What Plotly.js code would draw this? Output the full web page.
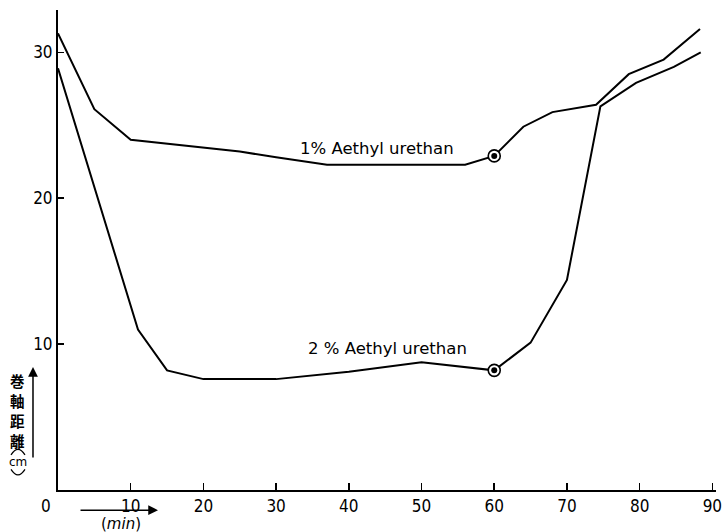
<!DOCTYPE html>
<html>
<head>
<meta charset="utf-8">
<script src="https://cdn.plot.ly/plotly-3.0.1.min.js"></script>
<style>html,body{margin:0;padding:0;background:#fff;}#chart{width:726px;height:532px;}</style>
</head>
<body>
<div id="chart"></div>
<script>
// Time in minutes, x axis
const time1 = [0, 5, 10, 20, 25, 30, 37, 56, 60, 64, 68, 74, 78.5, 83.3, 88.3];
// 1% Aethyl urethan, roll-axis distance (cm)
const dist1 = [31.3, 26.1, 24.0, 23.5, 23.2, 22.8, 22.3, 22.3, 22.9, 24.9, 25.9, 26.4, 28.5, 29.5, 31.6];
const time2 = [0, 11, 15, 20, 30, 40, 50, 60, 65, 70, 74.6, 79.5, 84.7, 88.4];
// 2% Aethyl urethan
const dist2 = [28.9, 11.0, 8.2, 7.6, 7.6, 8.1, 8.75, 8.2, 10.1, 14.4, 26.3, 27.9, 29.0, 30.0];
// circled points
const markTime = [60, 60];
const markDist = [22.9, 8.2];
const xTicks = [10, 20, 30, 40, 50, 60, 70, 80, 90];
const yTicks = [10, 20, 30];
const seriesLabels = ["1% Aethyl urethan", "2 % Aethyl urethan"];
const yTitleChars = ["巻", "軸", "距", "離"];
const labelPos = [[43.9, 23.4], [45.3, 9.7]];

const numFont = {family: "Liberation Sans Narrow, DejaVu Sans Condensed, Liberation Sans, sans-serif", size: 17, color: "#000"};
const handFont = {family: "DejaVu Sans, sans-serif", size: 16.5, color: "#000"};
const cjk = "Noto Sans CJK JP, sans-serif";

const traces = [
  {x: time1, y: dist1, mode: "lines", line: {color: "#000", width: 2}, hoverinfo: "none"},
  {x: time2, y: dist2, mode: "lines", line: {color: "#000", width: 2}, hoverinfo: "none"},
  {x: markTime, y: markDist, mode: "markers", marker: {symbol: "circle", size: 12, color: "#fff", line: {color: "#000", width: 1.6}}, hoverinfo: "none"},
  {x: markTime, y: markDist, mode: "markers", marker: {symbol: "circle", size: 6, color: "#000"}, hoverinfo: "none"}
];

function paperText(x, y, text, font, extra) {
  return Object.assign({x: x, y: y, xref: "paper", yref: "paper", text: text, showarrow: false,
    xanchor: "center", yanchor: "middle", font: font}, extra || {});
}

const annotations = [
  {x: labelPos[0][0], y: labelPos[0][1], xref: "x", yref: "y", text: seriesLabels[0], showarrow: false, font: handFont, xanchor: "center", yanchor: "middle"},
  {x: labelPos[1][0], y: labelPos[1][1], xref: "x", yref: "y", text: seriesLabels[1], showarrow: false, font: handFont, xanchor: "center", yanchor: "middle"},
  paperText(-0.018, -0.034, "0", numFont),
  // x-axis unit with arrow
  {x: 0.152, y: -0.042, xref: "paper", yref: "paper", text: "", showarrow: true, ax: -79, ay: 0, arrowhead: 2, arrowsize: 1.3, arrowwidth: 1.5, arrowcolor: "#000"},
  paperText(0.0957, -0.071, "(<i>min</i>)", {family: "DejaVu Sans, sans-serif", size: 15, color: "#000"}),
  paperText(-0.0608, 0.058, "cm", {family: "DejaVu Sans, sans-serif", size: 12, color: "#000"}),
  {x: -0.038, y: 0.256, xref: "paper", yref: "paper", text: "", showarrow: true, ax: 0, ay: 92, arrowhead: 2, arrowsize: 1.3, arrowwidth: 1.5, arrowcolor: "#000"}
];
// y-axis title in vertical writing, one character per line
yTitleChars.forEach((ch, i) => {
  annotations.push(paperText(-0.0608, 0.229 - i * 0.0417, ch, {family: cjk, size: 14.5, color: "#000", weight: 700}));
});

// vertical-writing parentheses around "cm" (paper coordinates)
const cx = -0.0608, dx = 0.0106;
const shapes = [
  {type: "path", xref: "paper", yref: "paper", path: `M ${cx - dx} 0.073 Q ${cx} 0.096 ${cx + dx} 0.073`, line: {color: "#000", width: 1.3}},
  {type: "path", xref: "paper", yref: "paper", path: `M ${cx - dx} 0.043 Q ${cx} 0.020 ${cx + dx} 0.043`, line: {color: "#000", width: 1.3}}
];

const layout = {
  width: 726, height: 532,
  margin: {l: 58, r: 10, t: 10, b: 42, pad: 0},
  paper_bgcolor: "#fff", plot_bgcolor: "#fff",
  showlegend: false,
  xaxis: {range: [0, 90.5], tickvals: xTicks, ticktext: xTicks.map(String), ticks: "inside", ticklen: 7, tickwidth: 1.5, tickcolor: "#000",
          showline: true, linecolor: "#000", linewidth: 2, showgrid: false, zeroline: false, tickfont: numFont, fixedrange: true},
  yaxis: {range: [0, 32.9], tickvals: yTicks, ticktext: yTicks.map(String), ticks: "inside", ticklen: 6, tickwidth: 1.5, tickcolor: "#000",
          showline: true, linecolor: "#000", linewidth: 2, showgrid: false, zeroline: false, tickfont: numFont, fixedrange: true},
  annotations: annotations,
  shapes: shapes
};

Plotly.newPlot("chart", traces, layout, {staticPlot: true, displayModeBar: false});
</script>
</body>
</html>
